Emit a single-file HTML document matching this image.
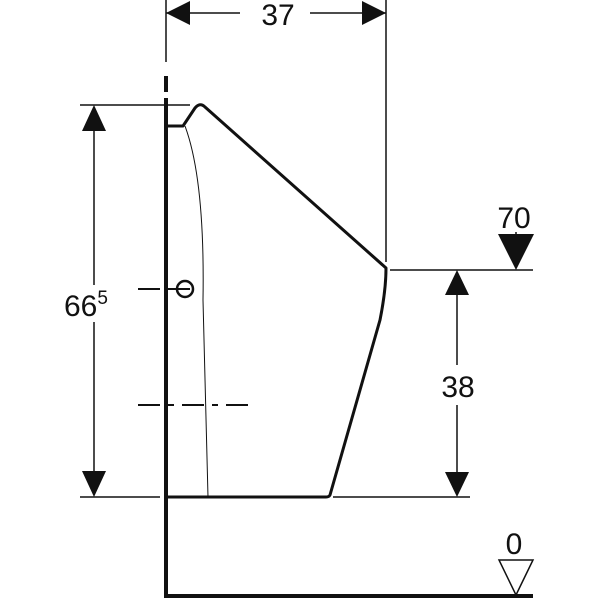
<!DOCTYPE html><html><head><style>body{margin:0;background:#fff}svg{display:block}text{font-family:"Liberation Sans",sans-serif;fill:#111}</style></head><body>
<svg width="600" height="600" viewBox="0 0 600 600">
<g stroke="#111" fill="none">
<line x1="166" y1="0" x2="166" y2="62" stroke-width="1.5"/>
<line x1="386" y1="0" x2="386" y2="262" stroke-width="1.5"/>
<line x1="166" y1="13" x2="240" y2="13" stroke-width="1.5"/>
<line x1="310" y1="13" x2="386" y2="13" stroke-width="1.5"/>
<line x1="166" y1="76" x2="166" y2="92" stroke-width="4"/>
<line x1="166" y1="98" x2="166" y2="598" stroke-width="4"/>
<line x1="164" y1="596" x2="533" y2="596" stroke-width="4"/>
<line x1="80" y1="105" x2="190" y2="105" stroke-width="1.5"/>
<line x1="80" y1="497" x2="160" y2="497" stroke-width="1.5"/>
<line x1="94" y1="120" x2="94" y2="285" stroke-width="1.5"/>
<line x1="94" y1="322" x2="94" y2="480" stroke-width="1.5"/>
<path d="M166 126 L183 126 L195 108 Q200 102 205 107 L386 268 Q386 290 380 320 L330 495 Q329 497 326 497 L166 497" stroke-width="3" stroke-linejoin="round"/>
<path d="M185 126 Q205 180 203 300 L208 497" stroke-width="1"/>
<circle cx="185" cy="289" r="8" stroke-width="2.5"/>
<line x1="138" y1="289" x2="195" y2="289" stroke-width="2" stroke-dasharray="22,8"/>
<line x1="138" y1="405" x2="255" y2="405" stroke-width="2" stroke-dasharray="22,8,6,8"/>
<line x1="390" y1="270" x2="533" y2="270" stroke-width="1.5"/>
<line x1="333" y1="497" x2="470" y2="497" stroke-width="1.5"/>
<line x1="457" y1="290" x2="457" y2="365" stroke-width="1.5"/>
<line x1="457" y1="405" x2="457" y2="480" stroke-width="1.5"/>
<line x1="516" y1="232" x2="516" y2="240" stroke-width="1.5"/>
<path d="M499 560 L533 560 L516 595 Z" stroke-width="1.5"/>
</g>
<g fill="#111">
<path d="M166 13 L190 1 L190 25 Z"/><path d="M386 13 L362 1 L362 25 Z"/>
<path d="M94 105 L82 131 L106 131 Z"/><path d="M94 497 L82 471 L106 471 Z"/>
<path d="M457 270 L445 295 L469 295 Z"/><path d="M457 497 L445 472 L469 472 Z"/>
<path d="M498 234 L534 234 L516 270 Z"/>
</g>
<text x="278" y="25" font-size="30" text-anchor="middle">37</text>
<text x="64" y="316" font-size="30">66<tspan font-size="19" dy="-12">5</tspan></text>
<text x="458" y="397" font-size="30" text-anchor="middle">38</text>
<text x="514" y="228" font-size="30" text-anchor="middle">70</text>
<text x="514" y="554" font-size="30" text-anchor="middle">0</text>
</svg></body></html>
